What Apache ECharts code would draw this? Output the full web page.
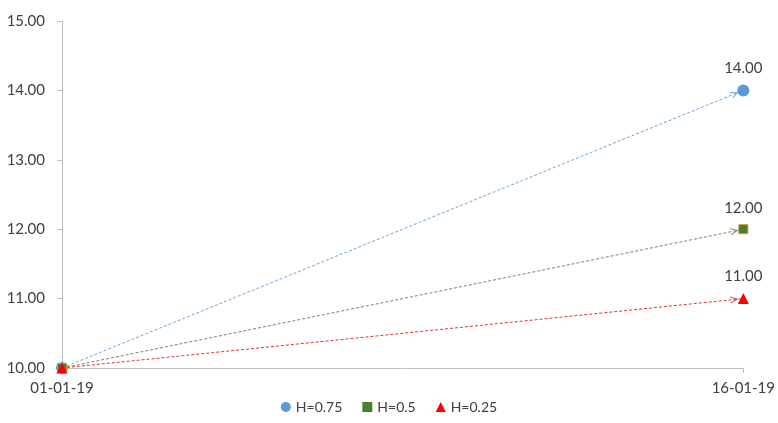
<!DOCTYPE html>
<html>
<head>
<meta charset="utf-8">
<script src="https://cdn.jsdelivr.net/npm/echarts@6/dist/echarts.min.js"></script>
<style>
  html, body { margin: 0; padding: 0; background: #fff; }
  #chart { width: 778px; height: 423px; }
</style>
</head>
<body>
<div id="chart"></div>
<script>
var dates = ['01-01-19', '16-01-19'];
var names = ['H=0.75', 'H=0.5', 'H=0.25'];
var h075 = [10, 14];
var h05 = [10, 12];
var h025 = [10, 11];

var fontName = 'Lato';
var textColor = '#404040';
// open chevron, tip pointing up (ECharts rotates it along the line)
var openArrow = 'path://M5,0 L10,10 L8.6,10 L5,2.6 L1.4,10 L0,10 Z';

var makeSeries = function(name, values, color, lineColor, symbol, size, border)
{
    var last = values.length - 1;
    return {
        name: name,
        type: 'line',
        data: values.map(function(v, i) {
            return {
                value: v,
                label: { show: i === last }
            };
        }),
        symbol: symbol,
        symbolSize: size,
        itemStyle: { color: color, borderColor: border || color, borderWidth: border ? 1 : 0 },
        lineStyle: { width: 0, opacity: 0 },
        label: {
            position: 'top',
            distance: 9,
            color: textColor,
            fontFamily: fontName,
            fontSize: 15,
            formatter: function(p) { return p.value.toFixed(2); }
        },
        emphasis: { disabled: true },
        z: 3,
        markLine: {
            silent: true,
            symbol: ['none', openArrow],
            symbolSize: [7, 8],
            symbolOffset: [[0, 0], [0, 9]],
            label: { show: false },
            lineStyle: { color: lineColor, type: [3, 2], width: 1 },
            emphasis: { disabled: true },
            data: [[
                { coord: [0, values[0]] },
                { coord: [last, values[last]] }
            ]],
            z: 2
        }
    };
};

var myChart = echarts.init(document.getElementById('chart'), null, { renderer: 'canvas' });

var option = {
    animation: false,
    textStyle: { fontFamily: fontName },
    grid: { left: 62, right: 31, top: 21, bottom: 55 },
    legend: {
        bottom: 4,
        left: 'center',
        itemWidth: 10,
        itemHeight: 10,
        itemGap: 20,
        textStyle: { color: textColor, fontSize: 14, fontFamily: fontName },
        data: [
            { name: names[0], icon: 'circle' },
            { name: names[1], icon: 'rect', itemStyle: { borderWidth: 0 } },
            { name: names[2], icon: 'triangle' }
        ]
    },
    xAxis: {
        type: 'category',
        boundaryGap: false,
        data: dates,
        axisLine: { lineStyle: { color: '#bfbfbf' } },
        axisTick: { show: true, length: 5, lineStyle: { color: '#bfbfbf' } },
        axisLabel: { color: textColor, fontSize: 15, margin: 13 }
    },
    yAxis: {
        type: 'value',
        min: 10,
        max: 15,
        interval: 1,
        axisLine: { show: true, lineStyle: { color: '#bfbfbf' } },
        axisTick: { show: true, length: 5, lineStyle: { color: '#bfbfbf' } },
        splitLine: { show: false },
        axisLabel: {
            color: textColor,
            fontSize: 15,
            margin: 17,
            formatter: function(v) { return v.toFixed(2); }
        }
    },
    series: [
        makeSeries(names[0], h075, '#5b9bd5', '#6fa3d0', 'circle', 12),
        makeSeries(names[1], h05, '#4e7d2c', '#6f8a5c', 'rect', 9, '#c8963c'),
        makeSeries(names[2], h025, '#ff0000', '#e83030', 'triangle', 11)
    ]
};

myChart.setOption(option);
window.addEventListener('resize', myChart.resize);
</script>
</body>
</html>
